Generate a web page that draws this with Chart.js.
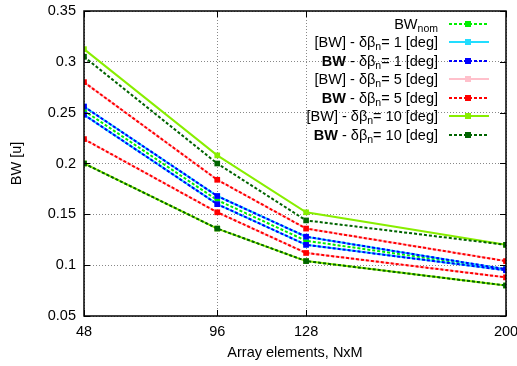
<!DOCTYPE html>
<html>
<head>
<meta charset="utf-8">
<script src="https://cdn.jsdelivr.net/npm/chart.js@4.4.0/dist/chart.umd.min.js"></script>
<style>
  html, body { margin: 0; padding: 0; background: #fff; }
  #wrap { position: relative; width: 517px; height: 366px; }
  #legend { position: absolute; left: 0; top: 0; width: 517px; height: 366px; pointer-events: none;
            font-family: "Liberation Sans", Arial, sans-serif; font-size: 14.5px; color: #000; }
  .row { position: absolute; left: 0; width: 517px; height: 18px; }
  .row .txt { position: absolute; right: 79px; top: 0; line-height: 18px; white-space: nowrap; }
  .row sub { font-size: 10.5px; vertical-align: -3px; line-height: 0; }
  .row svg { position: absolute; left: 449px; top: 4px; }
</style>
</head>
<body>
<div id="wrap">
  <canvas id="chart" width="517" height="366"></canvas>
  <div id="legend"></div>
</div>
<script>
// --- Daten ---
const arraySizes = [48, 96, 128, 200];
const xTicks = [48, 96, 128, 200];
const yTicks = [0.05, 0.1, 0.15, 0.2, 0.25, 0.3, 0.35];

const bwNom = [0.252, 0.164, 0.124, 0.096];

// [BW] = Bereich (oben / unten), BW = berechnete Werte
const rangeHi1 = [0.256, 0.168, 0.128, 0.096];
const rangeLo1 = [0.248, 0.160, 0.120, 0.095];
const bwHi1    = [0.256, 0.168, 0.128, 0.096];
const bwLo1    = [0.248, 0.160, 0.120, 0.095];

const rangeHi5 = [0.280, 0.184, 0.136, 0.104];
const rangeLo5 = [0.224, 0.152, 0.112, 0.088];
const bwHi5    = [0.280, 0.184, 0.136, 0.104];
const bwLo5    = [0.224, 0.152, 0.112, 0.088];

const rangeHi10 = [0.3125, 0.208, 0.152, 0.120];
const rangeLo10 = [0.200, 0.136, 0.104, 0.080];
const bwHi10    = [0.305, 0.200, 0.144, 0.120];
const bwLo10    = [0.200, 0.136, 0.104, 0.080];

const seriesLabels = [
  'BW<sub>nom</sub>',
  '[BW] - δβ<sub>n</sub>= 1 [deg]',
  '<b>BW</b> - δβ<sub>n</sub>= 1 [deg]',
  '[BW] - δβ<sub>n</sub>= 5 [deg]',
  '<b>BW</b> - δβ<sub>n</sub>= 5 [deg]',
  '[BW] - δβ<sub>n</sub>= 10 [deg]',
  '<b>BW</b> - δβ<sub>n</sub>= 10 [deg]'
];

// --- Hilfsfunktionen ---
const pts = ys => arraySizes.map((x, i) => ({ x: x, y: ys[i] }));
// zwei Linien in einem Datensatz, getrennt durch eine Lücke
const band = (hi, lo) => [...pts(hi), { x: arraySizes[arraySizes.length - 1], y: null }, ...pts(lo)];

const styles = [
  { color: '#00ee00', dash: [3, 2] },
  { color: '#22ddff', dash: [] },
  { color: '#0000ff', dash: [3, 2] },
  { color: '#ffc0cb', dash: [] },
  { color: '#ff0000', dash: [3, 2] },
  { color: '#88ee00', dash: [] },
  { color: '#006400', dash: [3, 2] }
];

const seriesData = [
  pts(bwNom),
  band(rangeHi1, rangeLo1),
  band(bwHi1, bwLo1),
  band(rangeHi5, rangeLo5),
  band(bwHi5, bwLo5),
  band(rangeHi10, rangeLo10),
  band(bwHi10, bwLo10)
];

const datasets = seriesData.map((d, i) => ({
  label: seriesLabels[i].replace(/<[^>]+>/g, ''),
  data: d,
  borderColor: styles[i].color,
  backgroundColor: styles[i].color,
  borderWidth: 2,
  borderDash: styles[i].dash,
  pointStyle: 'rect',
  pointRadius: 4,
  pointBorderWidth: 0,
  pointBackgroundColor: styles[i].color,
  spanGaps: false,
  tension: 0,
  order: seriesData.length - i
}));

const font = { family: '"Liberation Sans", Arial, sans-serif', size: 14.5 };

// Rahmen + nach innen zeigende Ticks auf allen vier Seiten (gnuplot-Stil)
const framePlugin = {
  id: 'frame',
  afterDraw(chart) {
    const { ctx, chartArea: a, scales } = chart;
    const len = 6;
    ctx.save();
    ctx.strokeStyle = '#000';
    ctx.lineWidth = 1;
    ctx.beginPath();
    scales.x.ticks.forEach(t => {
      const px = Math.round(scales.x.getPixelForValue(t.value)) + 0.5;
      ctx.moveTo(px, a.bottom); ctx.lineTo(px, a.bottom - len);
      ctx.moveTo(px, a.top); ctx.lineTo(px, a.top + len);
    });
    scales.y.ticks.forEach(t => {
      const py = Math.round(scales.y.getPixelForValue(t.value)) + 0.5;
      ctx.moveTo(a.left, py); ctx.lineTo(a.left + len, py);
      ctx.moveTo(a.right, py); ctx.lineTo(a.right - len, py);
    });
    ctx.stroke();
    ctx.lineWidth = 1.5;
    ctx.strokeRect(a.left, a.top, a.right - a.left, a.bottom - a.top);
    ctx.restore();
  }
};

new Chart(document.getElementById('chart'), {
  type: 'line',
  data: { datasets: datasets },
  options: {
    responsive: false,
    animation: false,
    layout: { padding: { top: 11, right: 11, left: 0, bottom: 0 } },
    plugins: { legend: { display: false }, tooltip: { enabled: false } },
    scales: {
      x: {
        type: 'linear', min: 48, max: 200,
        afterBuildTicks: s => { s.ticks = xTicks.map(v => ({ value: v })); },
        afterFit: s => { s.height = 50; s.paddingLeft = 0; s.paddingRight = 0; },
        grid: { color: '#888', drawTicks: false },
        border: { display: false, dash: [1, 2] },
        ticks: { color: '#000', font: font, padding: 7, maxRotation: 0, callback: v => String(v) },
        title: { display: true, text: 'Array elements, NxM', color: '#000', font: font, padding: { top: 0, bottom: 4 } }
      },
      y: {
        min: 0.05, max: 0.35,
        afterBuildTicks: s => { s.ticks = yTicks.map(v => ({ value: v })); },
        afterFit: s => { s.width = 84; s.paddingTop = 0; s.paddingBottom = 0; },
        grid: { color: '#888', drawTicks: false },
        border: { display: false, dash: [1, 2] },
        ticks: { color: '#000', font: font, padding: 8, callback: v => String(+v.toFixed(2)) },
        title: { display: true, text: 'BW [u]', color: '#000', font: font, padding: { top: 8, bottom: 0 } }
      }
    }
  },
  plugins: [framePlugin]
});

// --- Legende (HTML, rechts oben im Plot) ---
const legendEl = document.getElementById('legend');
seriesLabels.forEach((lbl, i) => {
  const cy = 24 + i * 18.45;
  const row = document.createElement('div');
  row.className = 'row';
  row.style.top = (cy - 9) + 'px';
  const st = styles[i];
  row.innerHTML = '<span class="txt">' + lbl + '</span>' +
    '<svg width="40" height="10"><line x1="0" y1="5" x2="40" y2="5" stroke="' + st.color +
    '" stroke-width="2" stroke-dasharray="' + (st.dash.length ? st.dash.join(',') : 'none') + '"/>' +
    '<rect x="16" y="2" width="6" height="6" fill="' + st.color + '"/></svg>';
  legendEl.appendChild(row);
});
</script>
</body>
</html>
